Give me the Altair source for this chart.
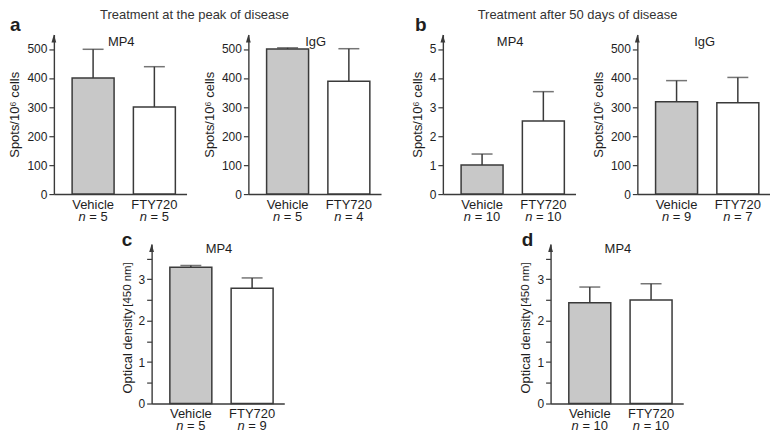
import altair as alt
import pandas as pd

FONT = "Liberation Sans"
TXT = "#1e1e1e"
LINE = "#3a3a3a"

CATEGORIES = ["Vehicle", "FTY720"]

A_MP4 = [400, 300]
A_MP4_UP = [499, 439]
A_MP4_N = [5, 5]

A_IGG = [500, 389]
A_IGG_UP = [504, 501]
A_IGG_N = [5, 4]

B_MP4 = [1.0, 2.52]
B_MP4_UP = [1.38, 3.53]
B_MP4_N = [10, 10]

B_IGG = [318, 315]
B_IGG_UP = [391, 402]
B_IGG_N = [9, 7]

C_MP4 = [3.29, 2.78]
C_MP4_UP = [3.33, 3.03]
C_MP4_N = [5, 9]

D_MP4 = [2.43, 2.50]
D_MP4_UP = [2.81, 2.89]
D_MP4_N = [10, 10]

SPOT_TICKS = [0, 100, 200, 300, 400, 500]
SPOT_TICKS_SMALL = [0, 1, 2, 3, 4, 5]
OD_TICKS = [0, 0.5, 1, 1.5, 2, 2.5, 3, 3.5]

W = 133
H1 = 160
H2 = 160
GAP = 62


def txt(text, x, y, size=13, weight="normal", style="normal", align="center",
        angle=0, baseline="alphabetic", color=TXT):
    return alt.Chart(pd.DataFrame({"t": [text]})).mark_text(
        font=FONT, fontSize=size, fontWeight=weight, fontStyle=style,
        align=align, baseline=baseline, angle=angle, color=color
    ).encode(x=alt.value(x), y=alt.value(y), text="t:N")


def panel(vals, ups, ns, ymax, yticks, H, title, title_y, ytitle=None,
          od=False, extras=()):
    df = pd.DataFrame({"cat": CATEGORIES, "val": vals, "up": ups,
                       "n": ["n"] * 2, "eq": ["= %d" % v for v in ns]})
    ndig = len(str(ns[0]))
    total = 7.23 + 3.61 + 7.59 + 3.61 + 7.23 * ndig
    n_end = -total / 2 + 7.23
    eq_start = n_end + 3.61

    xaxis = alt.Axis(title=None, ticks=False, tickSize=0, labelPadding=4,
                     labelAngle=0, labelFontSize=13, labelFont=FONT,
                     labelColor=TXT, domainColor=LINE, domainWidth=1.4,
                     labelOverlap=False)
    xscale = alt.Scale(paddingInner=0.315, paddingOuter=0.24, align=0.62)
    xenc = alt.X("cat:N", sort=CATEGORIES, scale=xscale, axis=xaxis)
    common = dict(values=yticks, tickSize=5, labelPadding=2, labelFontSize=12,
                  labelFont=FONT, labelColor=TXT, domainColor=LINE,
                  tickColor=LINE, domainWidth=1.4, tickWidth=1.2, grid=False,
                  labelOverlap=False, labelFlush=False)
    if od:
        yaxis = alt.Axis(title=None,
                         labelExpr="datum.value % 1 == 0 ? format(datum.value, 'd') : ''",
                         **common)
    else:
        yaxis = alt.Axis(title=ytitle, titleFont=FONT, titleFontSize=13,
                         titleFontWeight="normal", titleColor=TXT, titlePadding=5,
                         **common)
    yscale = alt.Scale(domain=[0, ymax], nice=False, zero=True)
    y_val = alt.Y("val:Q", scale=yscale, axis=yaxis)
    y_up = alt.Y("up:Q", scale=yscale, axis=yaxis)

    base = alt.Chart(df)
    bars = base.mark_bar(stroke=LINE, strokeWidth=1.5).encode(
        x=xenc, y=y_val,
        fill=alt.Fill("cat:N", scale=alt.Scale(domain=CATEGORIES,
                                                range=["#c8c8c8", "#ffffff"]),
                      legend=None),
    )
    rule = base.mark_rule(color=LINE, strokeWidth=1.5).encode(
        x=xenc, y=y_val, y2="up:Q")
    cap = base.mark_tick(color=LINE, thickness=1.5, size=21).encode(
        x=xenc, y=y_up)
    arrow = alt.Chart(pd.DataFrame({"a": [0]})).mark_point(
        shape="M0,-1L0.6,1L-0.6,1Z", filled=True, color=LINE, opacity=1, size=64
    ).encode(x=alt.value(0), y=alt.value(4))
    nlab = base.mark_text(font=FONT, fontSize=13, fontStyle="italic", align="right",
                          baseline="alphabetic", color=TXT, dx=n_end).encode(
        x=xenc, y=alt.value(H + 27), text="n:N")
    eqlab = base.mark_text(font=FONT, fontSize=13, align="left",
                           baseline="alphabetic", color=TXT, dx=eq_start).encode(
        x=xenc, y=alt.value(H + 27), text="eq:N")
    ttl = txt(title, W / 2 + 1, title_y)
    layers = [bars, rule, cap, arrow, nlab, eqlab, ttl] + list(extras)
    return alt.layer(*layers).properties(width=W, height=H)


SPOTS = "Spots/10\u2076 cells"

p_a1 = panel(A_MP4, A_MP4_UP, A_MP4_N, 550, SPOT_TICKS, H1, "MP4", 12, SPOTS,
             extras=[txt("a", -44, -4, size=19, weight="bold", align="left"),
                     txt("Treatment at the peak of disease", 141, -16, color="#333333")])
p_a2 = panel(A_IGG, A_IGG_UP, A_IGG_N, 550, SPOT_TICKS, H1, "IgG", 12, SPOTS)
p_b1 = panel(B_MP4, B_MP4_UP, B_MP4_N, 5.5, SPOT_TICKS_SMALL, H1, "MP4", 12, SPOTS,
             extras=[txt("b", -28, -4, size=19, weight="bold", align="left"),
                     txt("Treatment after 50 days of disease", 135, -16, color="#333333")])
p_b2 = panel(B_IGG, B_IGG_UP, B_IGG_N, 550, SPOT_TICKS, H1, "IgG", 12, SPOTS)


def od_extras(letter, lx, tx):
    return [txt(letter, lx, 2, size=19, weight="bold", align="left"),
            txt("Optical density", tx, 150, align="left", angle=270, baseline="middle"),
            txt("[450 nm]", tx, 63, size=11.5, align="left", angle=270, baseline="middle")]


p_c = panel(C_MP4, C_MP4_UP, C_MP4_N, 3.85, OD_TICKS, H2, "MP4", 9, od=True,
            extras=od_extras("c", -30, -24))
p_d = panel(D_MP4, D_MP4_UP, D_MP4_N, 3.85, OD_TICKS, H2, "MP4", 9, od=True,
            extras=od_extras("d", -29, -25))


def spacer(w):
    return alt.Chart(pd.DataFrame({"v": [0]})).mark_point(opacity=0, size=1).encode(
        x=alt.value(0), y=alt.value(0)).properties(width=w, height=H2)


row1 = alt.hconcat(p_a1, p_a2, p_b1, p_b2, spacing=GAP, bounds="flush").resolve_scale(
    x="independent", y="independent")
row2 = alt.hconcat(spacer(36), p_c, spacer(143), p_d, spacing=GAP,
                   bounds="flush").resolve_scale(x="independent", y="independent")

chart = alt.vconcat(row1, row2, spacing=7).resolve_scale(
    x="independent", y="independent").properties(padding=0).configure(
    font=FONT).configure_view(stroke=None)

chart.save("out.html", embed_options={"renderer": "svg", "actions": False})
